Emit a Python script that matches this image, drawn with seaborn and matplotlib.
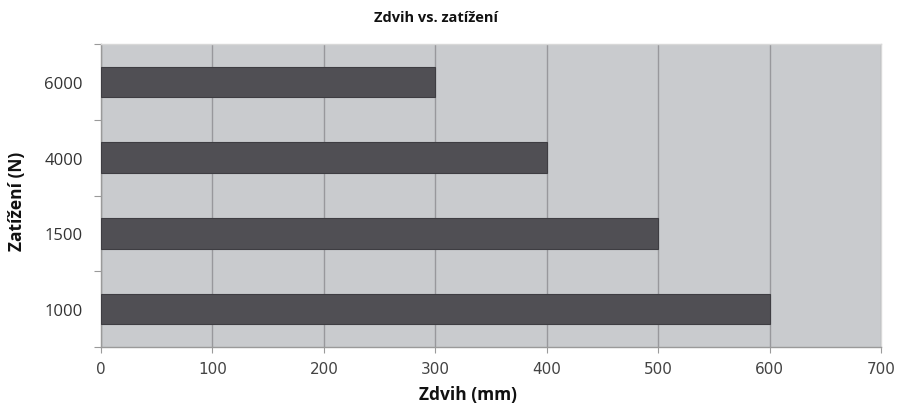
import matplotlib
matplotlib.use("Agg")
import matplotlib.pyplot as plt
import seaborn as sns
import pandas as pd
import numpy as np

# Load categories (N) and stroke values (mm)
loads = ["6000", "4000", "1500", "1000"]
stroke_mm = [300, 400, 500, 600]
x_ticks = [0, 100, 200, 300, 400, 500, 600, 700]

df = pd.DataFrame({"load": loads, "stroke": stroke_mm})

sns.set_theme(style="white")
plt.rcParams["font.family"] = ["Open Sans", "DejaVu Sans"]

fig = plt.figure(figsize=(9.03, 4.10), dpi=100)
ax = fig.add_axes([0.1118, 0.1512, 0.8638, 0.739])
ax.set_facecolor("#c9cbce")

sns.barplot(data=df, x="stroke", y="load", order=loads, orient="h",
            color="#504f54", width=0.4, saturation=1, ax=ax,
            edgecolor="#3e3d42", linewidth=0.8, zorder=3)

ax.set_xlim(0, 700)
ax.set_ylim(3.5, -0.5)
ax.set_xticks(x_ticks)
ax.set_xticklabels([str(v) for v in x_ticks])
ax.xaxis.grid(True, color="#98989c", linewidth=1.0, zorder=1)
ax.yaxis.grid(False)
ax.set_axisbelow(True)

# category boundary ticks on the value axis
ax.set_yticks(np.arange(-0.5, 4.0, 1.0), minor=True)
ax.tick_params(axis="y", which="minor", length=5, width=0.8, color="#9a9a9a", left=True)
ax.tick_params(axis="y", which="major", length=0, labelsize=12, labelcolor="#333333", pad=13)
ax.tick_params(axis="x", which="major", length=4, width=0.8, color="#9a9a9a", bottom=True,
               pad=6, labelsize=11, labelcolor="#444444")

for side in ["left", "bottom"]:
    ax.spines[side].set_color("#9a9a9a")
    ax.spines[side].set_linewidth(1.0)
for side in ["top", "right"]:
    ax.spines[side].set_color("#d8d8d8")
    ax.spines[side].set_linewidth(1.0)

ax.set_xlabel("Zdvih (mm)", fontsize=12.5, fontweight="bold", color="#111111")
ax.xaxis.set_label_coords(0.47, -0.125)
ax.set_ylabel("Zatížení (N)", fontsize=12.5, fontweight="bold", color="#111111")
ax.yaxis.set_label_coords(-0.096, 0.485)
fig.text(0.483, 0.956, "Zdvih vs. zatížení", ha="center", va="center",
         fontsize=10.5, fontweight="bold", color="#111111")

# wider face for the value-axis numbers
fig.canvas.draw()
for lbl in ax.get_xticklabels():
    lbl.set_fontfamily(["DejaVu Sans"])

fig.savefig("out.png", dpi=100)
